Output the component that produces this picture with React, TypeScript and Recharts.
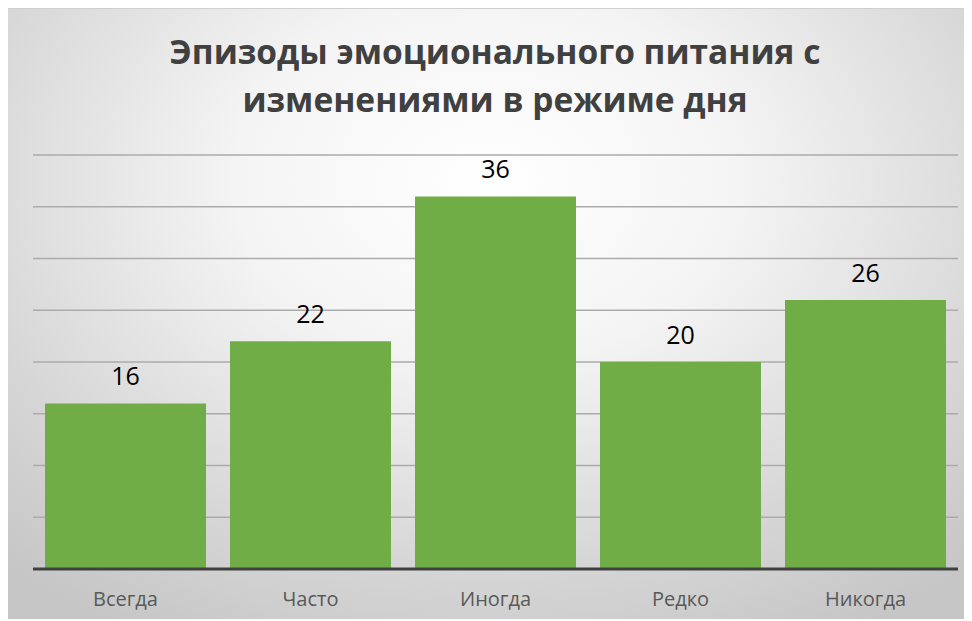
import React from "react";
import { BarChart, Bar, XAxis, YAxis, CartesianGrid, LabelList } from "recharts";

const categories = ["Всегда", "Часто", "Иногда", "Редко", "Никогда"];
const values = [16, 22, 36, 20, 26];
const yTicks = [0, 5, 10, 15, 20, 25, 30, 35, 40];
const titleLines = ["Эпизоды эмоционального питания с", "изменениями в режиме дня"];

const data = categories.map((c, i) => ({ name: c, value: values[i] }));

export default function App() {
  return (
    <div
      style={{
        position: "relative",
        width: 962,
        height: 611,
        marginLeft: -1,
        background:
          "radial-gradient(ellipse 75% 85% at 50% 28%, #ffffff 0%, #f4f4f4 35%, #d6d6d6 75%, #c6c6c6 100%)",
        borderTop: "1px solid #d0d0d0",
        boxSizing: "border-box",
        fontFamily: "'Open Sans', sans-serif",
      }}
    >
      <div
        style={{
          position: "absolute",
          left: 7,
          top: 18,
          width: "100%",
          textAlign: "center",
          fontWeight: 700,
          fontSize: 33.5,
          lineHeight: "48px",
          color: "#404040",
        }}
      >
        {titleLines.map((l, i) => (
          <div key={i}>{l}</div>
        ))}
      </div>
      <BarChart
        width={962}
        height={611}
        data={data}
        margin={{ top: 146, right: 11, left: 26, bottom: 21 }}
        barCategoryGap={12}
        style={{ position: "absolute", left: 0, top: 0 }}
      >
        <CartesianGrid vertical={false} stroke="#ababab" strokeWidth={1.5} />
        <YAxis hide domain={[0, 40]} ticks={yTicks} />
        <XAxis
          dataKey="name"
          axisLine={{ stroke: "#404040", strokeWidth: 3 }}
          tickLine={false}
          tickSize={0}
          tickMargin={23}
          height={30}
          tick={{ fill: "#595959", fontSize: 20, fontFamily: "'Open Sans', sans-serif" }}
        />
        <Bar dataKey="value" fill="#70AD47" isAnimationActive={false}>
          <LabelList
            dataKey="value"
            position="top"
            offset={18}
            style={{ fill: "#000000", fontSize: 25, fontFamily: "'Open Sans', sans-serif" }}
          />
        </Bar>
      </BarChart>
    </div>
  );
}
